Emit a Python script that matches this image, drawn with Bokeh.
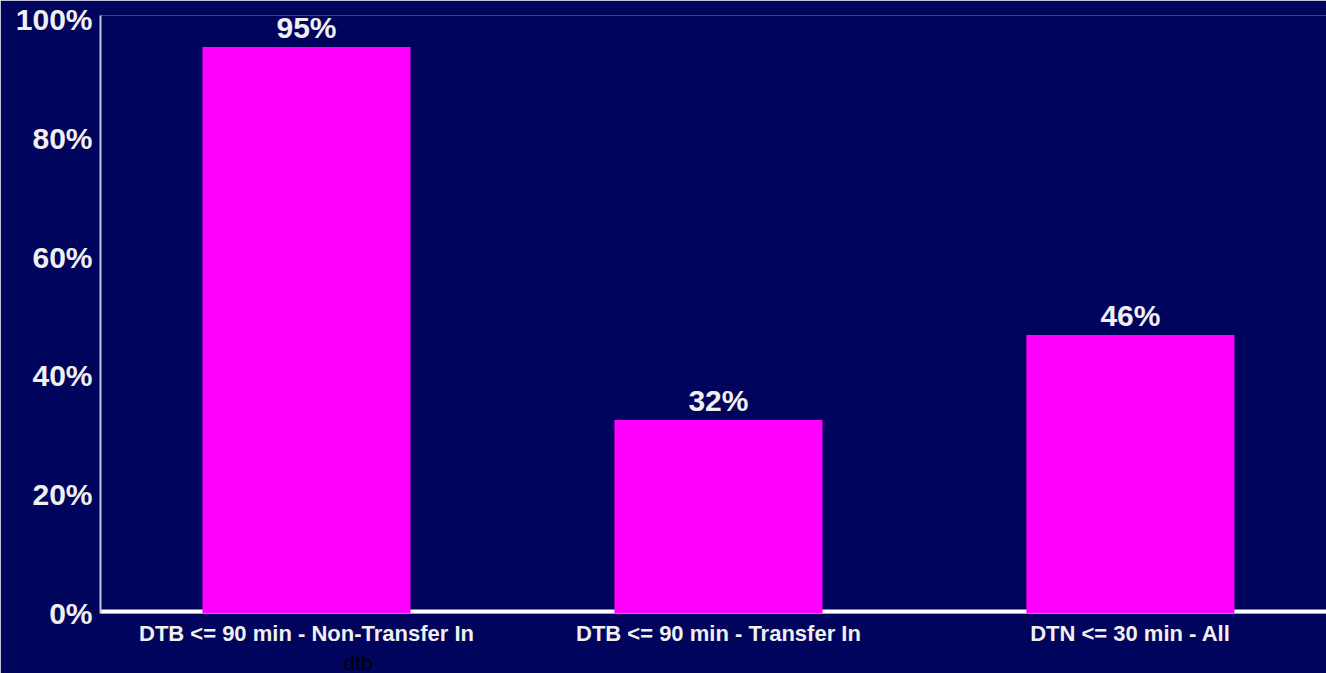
from bokeh.plotting import figure
from bokeh.models import ColumnDataSource, Range1d, FixedTicker, Title, Span
from bokeh.embed import file_html
from bokeh.resources import INLINE

categories = ["DTB <= 90 min - Non-Transfer In", "DTB <= 90 min - Transfer In", "DTN <= 30 min - All"]
values = [95.4, 32.6, 46.9]
value_labels = ["95%", "32%", "46%"]
y_ticks = [0, 20, 40, 60, 80, 100]
y_tick_labels = ["0%", "20%", "40%", "60%", "80%", "100%"]

BG = "#01045c"
FONT = "Liberation Sans"

xs = list(range(len(categories)))
src = ColumnDataSource(dict(x=xs, top=values, label=value_labels))

p = figure(width=1326, height=673, output_backend="svg", toolbar_location=None,
           x_range=Range1d(-0.5, 2.476), y_range=Range1d(0, 100.7),
           min_border_left=100, min_border_right=0, min_border_top=15, min_border_bottom=58)
p.background_fill_color = BG
p.border_fill_color = BG
p.outline_line_color = None
p.grid.visible = False

# white baseline band under the bars
p.add_layout(Span(location=0, dimension="width", line_color="white",
                  line_width=8, level="underlay"))

p.vbar(x="x", top="top", width=0.505, bottom=0, source=src,
       fill_color="#ff00ff", line_color=None)
p.text(x="x", y="top", text="label", source=src, text_align="center",
       text_baseline="bottom", y_offset=-3, text_color="#f0f0f0",
       text_font_size="30px", text_font_style="bold", text_font={"value": FONT})

# y axis
ya = p.yaxis[0]
ya.ticker = FixedTicker(ticks=y_ticks)
ya.major_label_overrides = {t: l for t, l in zip(y_ticks, y_tick_labels)}
ya.major_label_text_color = "#f0f0f0"
ya.major_label_text_font = FONT
ya.major_label_text_font_style = "bold"
ya.major_label_text_font_size = "30px"
ya.major_label_standoff = 2
ya.major_tick_line_color = None
ya.minor_tick_line_color = None
ya.axis_line_color = "#c8c8dc"
ya.axis_line_width = 2

# x axis
xa = p.xaxis[0]
xa.ticker = FixedTicker(ticks=xs)
xa.major_label_overrides = {i: c for i, c in zip(xs, categories)}
xa.major_label_text_color = "#f0f0f0"
xa.major_label_text_font = FONT
xa.major_label_text_font_style = "bold"
xa.major_label_text_font_size = "22px"
xa.major_label_standoff = 1
xa.major_tick_line_color = None
xa.minor_tick_line_color = None
xa.axis_line_color = None

t = Title(text="dtb", align="left", offset=243, text_color="black",
          text_font=FONT, text_font_style="normal", text_font_size="21px", standoff=0)
p.add_layout(t, "below")

open("out.html", "w").write(file_html(p, INLINE))
